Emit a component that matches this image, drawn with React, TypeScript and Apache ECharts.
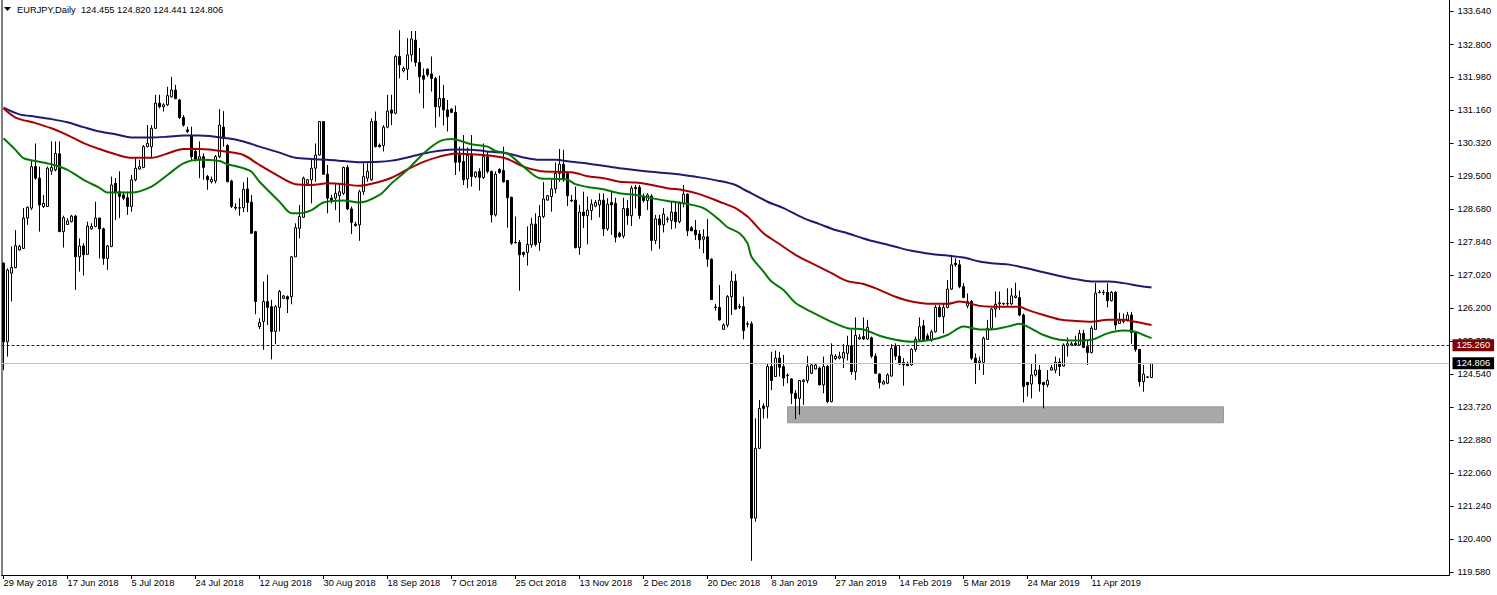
import React, { useEffect, useRef } from 'react';
import * as echarts from 'echarts';

// ---------- data ----------
const symbol = 'EURJPY';
const timeframe = 'Daily';
const startDate = Date.UTC(2018, 4, 29); // first bar: 29 May 2018
const slotCount = 362; // bar slots on the time axis (incl. empty right margin)
const labelEvery = 16; // a date label every 16 bars

const open = [
  127.32,125.35,127.07,127.21,127.65,127.69,128.45,128.70,129.74,129.45,
  128.74,128.74,129.63,129.66,130.06,128.11,128.29,128.36,128.50,127.48,
  127.75,127.54,128.18,128.24,128.45,128.18,127.44,127.74,129.32,129.11,
  129.03,128.96,128.74,129.41,129.68,129.72,130.24,130.24,130.70,131.33,
  131.24,131.29,131.49,131.66,131.41,130.97,130.66,130.53,130.12,129.93,
  129.99,129.49,129.36,129.38,129.99,130.73,130.27,129.38,128.72,128.70,
  128.71,129.18,128.85,128.11,125.73,125.86,126.36,126.23,125.61,126.21,
  126.44,126.48,126.48,127.48,128.19,128.47,129.32,129.41,129.70,130.03,
  130.87,129.55,128.95,128.95,129.01,129.07,129.72,128.68,128.30,128.28,
  129.11,129.45,129.41,130.88,130.28,130.27,130.73,131.16,131.08,132.50,
  132.14,132.18,132.54,132.91,132.35,132.02,132.18,132.06,131.95,131.24,
  131.45,131.16,131.18,131.10,130.03,129.87,129.43,130.03,129.49,129.62,
  129.47,129.99,129.62,128.53,129.67,129.64,129.39,128.97,127.84,127.84,
  127.59,127.59,127.78,128.30,127.84,128.49,128.90,128.99,129.18,129.57,
  129.80,129.57,128.90,128.90,127.71,128.60,128.51,128.64,128.75,128.78,
  128.90,128.18,128.84,128.82,128.07,128.00,128.69,128.51,129.22,129.22,
  128.99,128.89,129.00,127.89,128.43,128.28,128.42,128.39,128.60,128.36,
  128.82,129.05,128.21,128.15,128.05,127.92,127.98,127.42,126.22,126.21,
  125.66,125.77,126.48,126.87,126.23,126.23,125.80,125.80,120.93,122.68,
  123.74,123.72,124.73,124.48,124.94,124.73,124.51,124.42,124.06,123.93,
  124.35,124.38,124.56,124.67,124.69,124.27,124.73,123.85,124.93,124.94,
  124.94,125.06,125.25,124.60,125.42,125.48,125.42,125.45,124.99,124.54,
  124.29,124.31,124.49,125.23,124.99,124.83,124.81,124.77,125.16,125.40,
  125.75,125.50,125.40,125.60,126.21,125.98,126.21,126.67,127.32,127.28,
  126.73,126.25,126.36,124.94,124.83,124.83,125.41,125.69,126.17,126.30,
  126.30,126.30,126.30,126.46,126.46,126.02,124.33,124.29,124.52,124.64,
  124.33,124.27,124.64,124.64,124.84,124.74,125.25,125.27,125.31,125.27,
  125.56,125.23,125.08,125.66,126.58,126.59,126.59,126.38,126.59,125.81,
  125.86,125.88,126.02,125.58,125.16,124.35,124.47,124.455
];
const high = [
  127.34,127.19,127.74,128.15,127.78,128.70,128.74,129.91,130.32,129.74,
  129.03,129.74,130.37,130.37,130.37,128.51,128.45,128.53,128.53,127.94,
  127.82,128.36,128.32,128.86,128.46,128.21,127.78,129.49,129.45,129.62,
  129.11,129.11,129.53,129.95,129.91,130.28,130.78,130.78,131.54,131.54,
  131.33,131.74,131.99,131.79,131.44,131.03,130.74,130.74,130.20,130.37,
  130.07,129.53,129.49,130.03,131.18,131.13,130.30,129.41,128.82,128.95,
  129.35,129.47,129.03,128.13,125.94,126.86,127.03,126.40,126.27,126.65,
  126.52,126.51,127.50,128.32,128.78,129.49,129.43,129.95,130.32,130.88,
  130.88,129.78,129.03,129.32,129.32,129.74,129.78,128.74,128.36,129.16,
  129.82,129.82,130.95,131.12,130.32,130.78,131.54,131.54,132.54,133.16,
  132.25,132.96,133.14,133.14,132.71,132.20,132.20,132.50,131.99,132.02,
  131.79,131.41,131.20,131.27,130.24,130.53,130.22,130.53,129.62,129.70,
  130.32,130.12,129.64,129.62,129.70,130.24,129.41,128.99,128.49,127.90,
  127.61,128.24,128.46,128.57,128.78,129.35,129.03,129.41,129.84,130.18,
  130.16,129.62,129.03,129.24,128.78,129.11,128.99,128.92,128.90,129.07,
  129.07,128.95,129.14,128.96,128.11,128.96,128.90,129.26,129.28,129.28,
  129.07,129.07,129.05,128.53,128.53,128.70,128.49,128.86,128.86,128.86,
  129.28,129.07,128.25,128.40,128.15,128.17,128.43,127.44,126.30,126.77,
  125.81,126.52,127.12,127.05,126.30,126.48,125.86,125.86,123.43,123.89,
  123.81,124.81,125.10,125.13,125.10,125.02,124.56,124.44,124.14,124.39,
  124.41,124.99,124.81,124.81,124.73,124.98,124.77,125.31,125.04,125.10,
  125.29,125.50,125.65,125.96,125.54,125.96,125.90,125.48,125.06,124.56,
  124.39,124.56,125.29,125.31,125.27,124.94,124.85,125.19,125.48,125.96,
  125.90,125.56,125.65,126.27,126.27,126.31,126.90,127.53,127.44,127.40,
  126.82,126.56,126.40,125.06,124.98,125.48,125.90,126.19,126.61,126.61,
  126.33,126.69,126.69,126.83,126.63,126.06,124.35,124.81,125.04,124.77,
  124.35,124.64,124.77,124.98,124.94,125.31,125.46,125.35,125.50,125.65,
  125.65,125.38,125.75,126.82,126.65,126.65,126.82,126.62,126.62,126.08,
  126.06,126.10,126.10,125.60,125.16,124.77,124.49,124.820
];
const low = [
  124.64,124.98,126.36,127.19,127.64,127.68,128.28,128.65,129.41,128.11,
  128.70,128.74,129.53,129.62,128.11,127.71,128.28,128.34,126.65,127.11,
  127.01,127.53,128.16,128.22,127.44,127.28,127.15,127.72,128.40,128.45,
  128.90,128.53,128.61,129.37,129.66,129.70,130.22,129.95,130.68,131.20,
  131.12,131.26,131.47,131.44,130.93,130.74,130.58,129.91,129.87,129.45,
  129.41,129.16,129.32,129.32,129.95,130.24,129.36,128.70,128.65,128.51,
  128.60,128.60,128.05,126.04,125.67,125.15,125.77,124.91,125.29,125.61,
  126.42,126.07,126.29,127.48,127.94,128.46,129.30,128.82,129.36,130.02,
  129.53,128.57,128.82,128.65,128.34,129.03,128.65,128.05,128.24,127.88,
  129.03,129.36,129.38,130.22,130.22,130.12,130.70,130.78,131.05,131.95,
  132.10,131.91,132.37,132.25,131.58,131.20,131.99,131.62,130.72,130.99,
  130.77,130.62,131.08,129.53,129.62,129.28,129.20,129.24,129.45,129.14,
  129.43,129.57,128.34,128.49,129.56,129.34,128.21,127.78,127.82,126.63,
  127.48,127.26,127.71,127.74,127.63,128.45,128.89,128.61,129.07,129.36,
  129.36,128.75,128.86,127.69,127.53,128.20,127.79,128.40,128.72,128.47,
  128.00,128.13,128.03,127.84,127.96,127.94,128.28,128.25,128.69,128.43,
  128.84,128.65,127.63,127.80,127.68,128.09,128.34,128.17,128.19,128.32,
  128.72,128.00,128.13,127.90,127.68,127.57,127.23,126.40,126.13,125.88,
  125.65,125.71,126.02,126.15,126.17,125.41,125.71,119.86,120.84,122.66,
  123.43,123.43,124.14,124.48,124.48,124.24,124.31,123.79,123.41,123.52,
  123.77,124.31,124.54,124.66,124.26,124.06,123.81,123.83,124.89,124.91,
  124.69,124.88,124.52,124.39,125.40,125.40,125.40,124.94,124.54,124.18,
  124.28,124.29,124.48,124.89,124.77,124.25,124.74,124.74,125.10,125.35,
  125.35,125.38,125.35,125.58,125.96,125.56,126.19,126.65,127.23,126.69,
  126.44,126.19,124.89,124.29,124.64,124.52,125.40,125.65,125.96,126.15,
  126.27,126.25,126.27,126.44,125.99,123.83,123.98,123.93,124.48,124.10,
  123.68,124.21,124.63,124.56,124.49,124.73,124.98,125.25,125.25,125.25,
  125.19,124.77,125.06,125.65,126.57,126.52,126.21,126.36,125.65,125.80,
  125.81,125.86,125.30,125.10,124.23,124.10,124.45,124.441
];
const close = [
  125.35,127.15,127.21,127.76,127.74,128.45,128.72,129.74,129.45,128.78,
  128.82,129.70,129.72,130.07,128.11,128.46,128.38,128.50,127.48,127.75,
  127.53,128.25,128.24,128.45,128.18,127.44,127.75,129.28,129.11,128.99,
  128.95,128.74,129.41,129.70,129.74,130.24,130.32,130.70,131.33,131.24,
  131.29,131.52,131.66,131.44,130.97,130.78,130.62,129.99,129.91,129.99,
  129.72,129.41,129.42,129.99,130.78,130.45,129.36,128.74,128.70,128.71,
  129.17,128.84,128.07,126.36,125.83,126.36,126.21,125.61,126.23,126.61,
  126.50,126.42,127.48,128.21,128.49,129.45,129.41,129.70,130.03,130.87,
  129.55,128.95,128.88,129.07,129.11,129.72,128.68,128.34,128.26,129.11,
  129.49,129.62,130.87,130.24,130.24,130.73,131.13,131.08,132.50,132.29,
  132.20,132.54,132.94,132.35,131.99,131.93,132.04,131.95,131.24,131.45,
  131.16,130.99,131.10,129.85,129.85,129.41,130.02,129.49,129.60,129.47,
  129.99,129.62,128.53,129.55,129.59,129.36,128.96,127.82,127.83,127.53,
  127.54,127.79,128.30,127.79,128.49,128.93,129.01,129.18,129.57,129.80,
  129.41,129.01,128.88,127.71,128.60,128.51,128.65,128.80,128.84,128.90,
  128.18,128.80,128.78,127.97,127.99,128.69,128.51,129.20,129.19,128.51,
  128.89,129.03,127.89,128.43,128.28,128.55,128.43,128.60,128.36,128.82,
  129.05,128.13,128.13,128.03,127.90,127.98,127.42,126.41,126.21,125.90,
  125.77,126.48,126.87,126.17,126.22,125.63,125.79,120.93,122.68,123.68,
  123.68,124.73,124.38,124.94,124.71,124.44,124.50,124.06,123.93,124.38,
  124.39,124.74,124.77,124.77,124.27,124.73,123.85,125.02,124.99,124.99,
  125.08,125.25,124.60,125.51,125.46,125.42,125.71,124.99,124.56,124.33,
  124.35,124.52,125.18,124.99,124.79,124.77,124.75,125.16,125.41,125.73,
  125.40,125.40,125.60,126.21,125.98,126.21,126.67,127.28,127.28,126.73,
  126.46,126.36,124.94,124.81,124.87,125.44,125.69,126.17,126.29,126.33,
  126.31,126.31,126.50,126.50,126.02,124.23,124.27,124.52,124.64,124.29,
  124.27,124.38,124.70,124.84,124.73,125.27,125.30,125.30,125.27,125.56,
  125.21,125.08,125.69,126.57,126.59,126.58,126.38,126.59,125.77,125.88,
  125.90,126.02,125.58,125.16,124.35,124.54,124.46,124.806
];

// moving averages: [bar index, price]
const maFast = [
  [0,130.45],[3,130.16],[5,129.95],[8,129.88],[12,129.80],[16,129.66],[20,129.41],[24,129.21],
  [26,129.09],[32,129.09],[37,129.24],[41,129.53],[45,129.82],[49,129.91],[54,129.88],[56,129.80],
  [60,129.70],[62,129.61],[64,129.36],[69,128.86],[72,128.57],[74,128.57],[77,128.65],[80,128.84],
  [85,128.89],[89,128.84],[94,129.03],[97,129.32],[101,129.66],[105,130.07],[109,130.37],[112,130.43],
  [117,130.30],[121,130.24],[123,130.13],[126,130.07],[130,129.74],[134,129.45],[138,129.43],[141,129.41],
  [143,129.30],[146,129.23],[150,129.17],[154,129.07],[158,129.03],[162,128.95],[166,128.88],[170,128.82],
  [175,128.70],[179,128.40],[181,128.22],[184,128.07],[186,127.82],[187,127.48],[190,127.11],[192,126.86],
  [195,126.65],[198,126.32],[202,126.10],[207,125.85],[211,125.69],[215,125.66],[219,125.50],[223,125.40],
  [227,125.35],[232,125.40],[236,125.52],[240,125.73],[244,125.66],[247,125.66],[251,125.73],[254,125.80],
  [256,125.73],[260,125.52],[264,125.40],[268,125.38],[272,125.40],[276,125.56],[280,125.63],[283,125.60],
  [285,125.52],[287,125.44]
];
const maMid = [
  [0,131.20],[3,130.97],[8,130.83],[12,130.70],[16,130.53],[20,130.33],[24,130.18],[28,130.05],
  [32,129.96],[37,129.96],[41,130.07],[45,130.18],[49,130.18],[56,130.11],[60,130.03],[64,129.78],
  [69,129.49],[73,129.30],[77,129.28],[81,129.32],[85,129.30],[89,129.26],[94,129.36],[97,129.46],
  [101,129.67],[105,129.86],[109,129.99],[113,130.07],[117,130.05],[122,130.01],[126,129.93],[130,129.74],
  [134,129.63],[138,129.61],[142,129.60],[146,129.50],[150,129.45],[154,129.36],[158,129.34],[162,129.28],
  [166,129.20],[170,129.15],[174,129.05],[179,128.86],[183,128.70],[186,128.49],[187,128.39],[190,128.07],
  [194,127.80],[198,127.53],[202,127.32],[207,127.07],[211,126.87],[215,126.80],[219,126.65],[223,126.48],
  [227,126.36],[232,126.30],[236,126.30],[239,126.36],[244,126.25],[247,126.23],[251,126.23],[254,126.23],
  [256,126.15],[260,126.02],[264,125.91],[268,125.87],[272,125.85],[276,125.90],[280,125.90],[283,125.85],
  [287,125.77]
];
const maSlow = [
  [0,131.22],[4,131.05],[8,130.99],[12,130.93],[16,130.85],[20,130.73],[24,130.62],[28,130.55],
  [32,130.47],[37,130.47],[41,130.49],[45,130.52],[49,130.52],[56,130.45],[60,130.37],[64,130.24],
  [69,130.09],[73,129.96],[77,129.93],[81,129.91],[85,129.88],[89,129.85],[94,129.86],[97,129.89],
  [101,129.97],[105,130.07],[109,130.14],[113,130.17],[117,130.16],[122,130.11],[126,130.07],[130,129.97],
  [134,129.91],[138,129.91],[142,129.86],[146,129.82],[154,129.70],[162,129.61],[170,129.53],[174,129.47],
  [179,129.38],[183,129.28],[185,129.17],[187,129.07],[191,128.86],[195,128.70],[200,128.45],[204,128.30],
  [208,128.15],[211,128.07],[215,127.94],[219,127.83],[223,127.73],[227,127.63],[232,127.55],[236,127.51],
  [240,127.46],[244,127.36],[247,127.32],[251,127.29],[255,127.21],[260,127.09],[264,127.00],[268,126.92],
  [272,126.86],[276,126.86],[280,126.82],[284,126.75],[287,126.71]
];

const priceTicks = [119.58,120.40,121.24,122.06,122.88,123.72,124.54,125.37,126.20,127.02,127.84,128.68,129.50,130.32,131.16,131.98,132.80,133.64];
const priceMin = 119.58;
const priceMax = 133.64;
const levelPrice = 125.26;
const zoneTop = 123.72;
const zoneBottom = 123.32;
const zoneFrom = 196;
const zoneTo = 305;

// ---------- helpers ----------
const MONTHS = ['Jan','Feb','Mar','Apr','May','Jun','Jul','Aug','Sep','Oct','Nov','Dec'];
function buildDates(): string[] {
  const out: string[] = [];
  let t = startDate;
  while (out.length < slotCount) {
    const d = new Date(t);
    if (d.getUTCDay() !== 6) {
      out.push(`${d.getUTCDate()} ${MONTHS[d.getUTCMonth()]} ${d.getUTCFullYear()}`);
    }
    t += 86400000;
  }
  return out;
}

const FONT = 'Liberation Sans, Arial, sans-serif';
const FS = 9.3;

export default function App() {
  const ref = useRef<HTMLDivElement>(null);
  useEffect(() => {
    if (!ref.current) return;
    const chart = echarts.init(ref.current, undefined, { renderer: 'svg' });
    const dates = buildDates();
    const n = close.length;
    const candles = close.map((c, i) => [open[i], c, low[i], high[i]]);
    const last = n - 1;
    const headerText = `${symbol},${timeframe}  ${open[last].toFixed(3)} ${high[last].toFixed(3)} ${low[last].toFixed(3)} ${close[last].toFixed(3)}`;
    const showIdx = (i: number) => i % labelEvery === 0 && i < n;

    chart.setOption({
      animation: false,
      backgroundColor: '#ffffff',
      grid: { left: 1.5, right: 47.5, top: 11, bottom: 23, containLabel: false },
      xAxis: {
        type: 'category',
        data: dates,
        boundaryGap: true,
        offset: 3,
        axisLine: { show: true, lineStyle: { color: '#000', width: 1 } },
        axisTick: { show: true, alignWithLabel: true, interval: (i: number) => showIdx(i), length: 4, lineStyle: { color: '#000' } },
        axisLabel: {
          show: true, interval: (i: number) => showIdx(i), align: 'left', margin: 3,
          color: '#000', fontFamily: FONT, fontSize: FS,
        },
        splitLine: { show: false },
      },
      yAxis: {
        type: 'value',
        position: 'right',
        min: priceMin,
        max: priceMax,
        scale: true,
        axisLine: { show: false },
        axisTick: { show: true, length: 4, customValues: priceTicks, lineStyle: { color: '#000' } },
        axisLabel: {
          show: true, customValues: priceTicks, margin: 8, color: '#000', fontFamily: FONT, fontSize: FS,
          formatter: (v: number) => v.toFixed(3),
        },
        splitLine: { show: false },
      },
      series: [
        {
          type: 'candlestick',
          data: candles,
          barWidth: 2,
          z: 2,
          itemStyle: { color: '#ffffff', color0: '#000000', borderColor: '#000000', borderColor0: '#000000', borderWidth: 1 },
          markArea: {
            silent: true,
            itemStyle: { color: '#a9a9a9', borderColor: '#999999', borderWidth: 1 },
            data: [[{ coord: [zoneFrom, zoneTop] }, { coord: [zoneTo, zoneBottom] }]],
          },
          markLine: {
            silent: true,
            symbol: ['none', 'none'],
            data: [
              {
                yAxis: levelPrice,
                lineStyle: { color: '#800000', width: 1, type: [3, 2] },
                label: {
                  show: true, position: 'end', distance: 3, formatter: levelPrice.toFixed(3),
                  color: '#fff', backgroundColor: '#800000', padding: [2, 4, 1, 4], fontFamily: FONT, fontSize: FS,
                },
              },
              {
                yAxis: close[last],
                lineStyle: { color: '#c0c0c0', width: 1, type: 'solid' },
                label: {
                  show: true, position: 'end', distance: 3, formatter: close[last].toFixed(3),
                  color: '#fff', backgroundColor: '#000000', padding: [2, 4, 1, 4], fontFamily: FONT, fontSize: FS,
                },
              },
            ],
          },
        },
        {
          type: 'line', data: maSlow, showSymbol: false, smooth: 0.3, z: 3,
          lineStyle: { color: '#1f1a73', width: 2 },
        },
        {
          type: 'line', data: maMid, showSymbol: false, smooth: 0.3, z: 3,
          lineStyle: { color: '#a80000', width: 2 },
        },
        {
          type: 'line', data: maFast, showSymbol: false, smooth: 0.3, z: 3,
          lineStyle: { color: '#007a00', width: 2 },
        },
      ],
      graphic: [
        { type: 'line', shape: { x1: 2, y1: 0, x2: 2, y2: 575 }, style: { stroke: '#000', lineWidth: 1 }, silent: true },
        { type: 'line', shape: { x1: 1449.5, y1: 0, x2: 1449.5, y2: 575 }, style: { stroke: '#000', lineWidth: 1 }, silent: true },
        { type: 'polygon', shape: { points: [[4, 7], [11, 7], [7.5, 11]] }, style: { fill: '#000' }, silent: true },
        {
          type: 'text', x: 17, y: 10,
          style: { text: headerText, fill: '#000', fontFamily: FONT, fontSize: FS, verticalAlign: 'middle', align: 'left' },
          silent: true,
        },
      ],
    });
    return () => chart.dispose();
  }, []);
  return <div ref={ref} style={{ position: 'fixed', left: 0, top: 0, width: 1497, height: 595, background: '#fff' }} />;
}
